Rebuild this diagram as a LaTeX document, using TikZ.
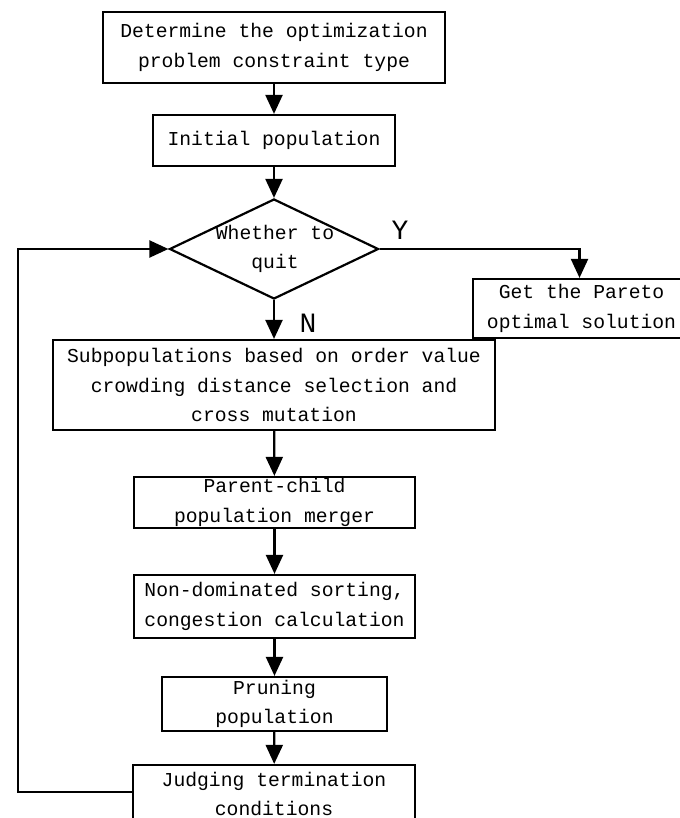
\documentclass[tikz,border=0pt]{standalone}
\usepackage{fontspec}
\setmonofont{Liberation Mono}
\usepackage{tikz}
\usetikzlibrary{arrows.meta,shapes.geometric}
\tikzset{
  flowbox/.style={draw, line width=2.2pt, inner sep=0pt, align=center,
    font=\ttfamily\fontsize{19.7pt}{29.5pt}\selectfont},
  flowtext/.style={inner sep=0pt, align=center,
    font=\ttfamily\fontsize{19.7pt}{29.5pt}\selectfont},
  yesno/.style={inner sep=0pt, font=\ttfamily\fontsize{28pt}{30pt}\selectfont},
  flowline/.style={line width=2.2pt, -{Triangle[length=19pt,width=17pt]}}
}
\begin{document}
\begin{tikzpicture}[x=1pt,y=-1pt]
\useasboundingbox (0,0) rectangle (679,818);
\node[flowbox, minimum width=342pt, minimum height=71pt] (det) at (274,47.5) {Determine the optimization\\problem constraint type};
\node[flowbox, minimum width=242pt, minimum height=51pt] (init) at (274,140.5) {Initial population};
\node[draw, diamond, line width=2.2pt, inner sep=0pt, minimum width=209pt, minimum height=100pt] (quit) at (274,249) {};
\node[flowtext] (quittext) at (275,249) {Whether to\\quit};
\node[flowbox, minimum width=217pt, minimum height=59pt] (pareto) at (581.5,308.5) {Get the Pareto\\optimal solution};
\node[flowbox, minimum width=442pt, minimum height=90pt] (sub) at (274,385) {Subpopulations based on order value\\crowding distance selection and\\cross mutation};
\node[flowbox, minimum width=281pt, minimum height=51pt] (merge) at (274.5,502.5) {Parent-child\\population merger};
\node[flowbox, minimum width=281pt, minimum height=63pt] (sort) at (274.5,606.5) {Non-dominated sorting,\\congestion calculation};
\node[flowbox, minimum width=225pt, minimum height=54pt] (prune) at (274.5,704) {Pruning\\population};
\node[flowbox, minimum width=282pt, minimum height=58pt] (judge) at (274,794) {Judging termination\\conditions};
\coordinate (back) at (18,792);
\node[yesno] (yes) at (400,230) {Y};
\node[yesno] (no) at (308,323) {N};
% main column
\draw[flowline] (det) -- (init);
\draw[flowline] (init) -- (quit.north);
\draw[flowline] (quit.south) -- (sub);
\draw[flowline] (sub) -- (merge);
\draw[flowline] (merge) -- (sort);
\draw[flowline] (sort) -- (prune);
\draw[flowline] (prune) -- (judge);
% exit and loop back
\draw[flowline] (quit.east) -| ([xshift=-2pt]pareto.north);
\draw[flowline] (judge.west |- back) -- (back) |- (quit.west);
\end{tikzpicture}
\end{document}
